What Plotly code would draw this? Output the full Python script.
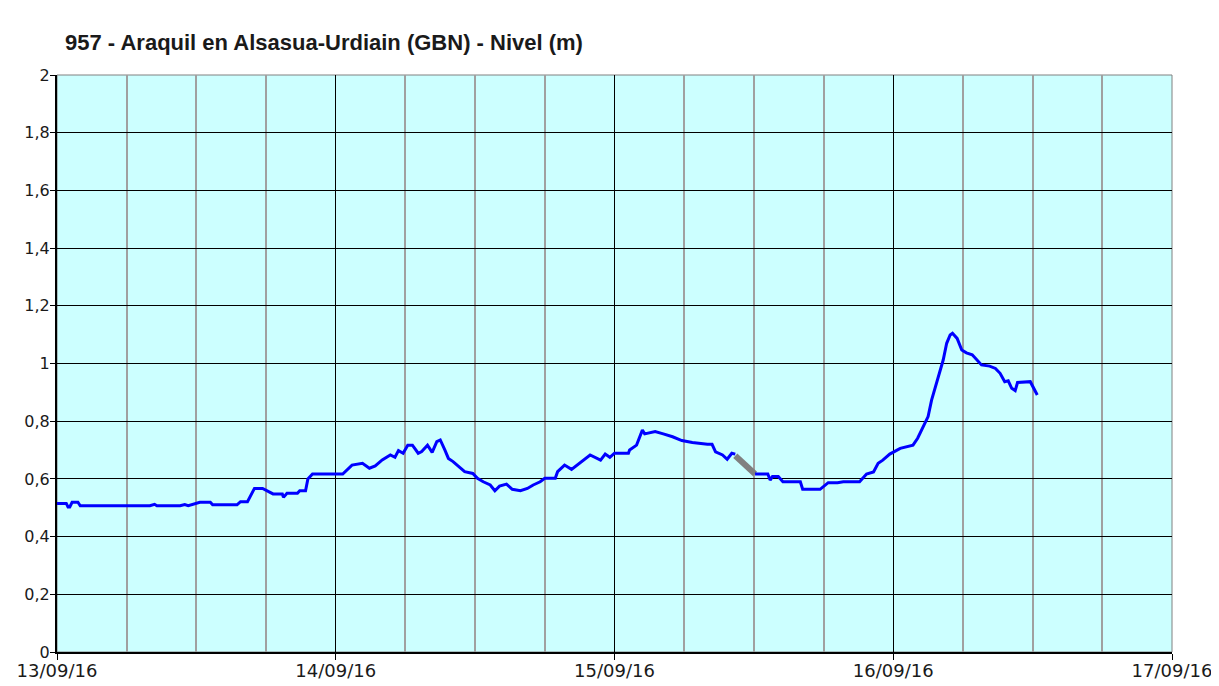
import pandas as pd
import plotly.graph_objects as go

# hours since 13/09/16 00:00 and river level (m)
hours = [0, 0.8, 0.95, 1.1, 1.3, 1.8, 2.0, 8.0, 8.4, 8.6, 10.6, 11.0, 11.3, 12.3, 13.2, 13.4,
         15.5, 15.8, 16.4, 16.8, 17.0, 17.7, 18.2, 18.6, 19.4, 19.5, 19.8, 20.7, 20.9, 21.4,
         21.6, 22.0, 24.6, 25.0, 25.4, 26.3, 26.9, 27.4, 28.0, 28.7, 29.1, 29.4, 29.8, 30.2,
         30.6, 31.1, 31.4, 31.9, 32.3, 32.7, 33.0, 33.4, 33.7, 34.1, 34.7, 35.1, 35.8, 36.2,
         36.7, 37.3, 37.7, 38.1, 38.7, 39.2, 39.9, 40.5, 41.0, 41.6, 42.0, 42.9, 43.1, 43.7,
         44.3, 45.0, 45.9, 46.8, 47.2, 47.6, 48.0, 49.2, 49.3, 49.9, 50.4, 50.6, 51.5, 52.2,
         53.0, 53.8, 54.7, 56.0, 56.4, 56.7, 57.3, 57.7, 58.1, 58.4]
levels = [0.515, 0.515, 0.503, 0.503, 0.519, 0.519, 0.507, 0.507, 0.512, 0.507, 0.507, 0.511, 0.507,
          0.519, 0.519, 0.510, 0.510, 0.521, 0.521, 0.550, 0.567, 0.567, 0.556, 0.548, 0.548,
          0.536, 0.550, 0.550, 0.559, 0.559, 0.600, 0.617, 0.617, 0.631, 0.648, 0.654, 0.637,
          0.645, 0.666, 0.683, 0.675, 0.698, 0.689, 0.717, 0.717, 0.689, 0.695, 0.717, 0.692,
          0.729, 0.735, 0.700, 0.671, 0.660, 0.637, 0.625, 0.619, 0.602, 0.590, 0.579, 0.559,
          0.575, 0.582, 0.564, 0.559, 0.567, 0.579, 0.590, 0.602, 0.602, 0.625, 0.648, 0.633,
          0.654, 0.683, 0.665, 0.686, 0.675, 0.689, 0.689, 0.700, 0.717, 0.769, 0.756, 0.764,
          0.756, 0.746, 0.733, 0.726, 0.720, 0.720, 0.694, 0.683, 0.668, 0.689, 0.686]

# gap filled (grey segment)
gap_hours = [58.4, 60.1]
gap_levels = [0.680, 0.617]

hours2 = [60.1, 61.2, 61.4, 61.6, 62.1, 62.5, 64.0, 64.2, 65.7, 66.4, 67.2, 67.7, 69.1, 69.7,
          70.3, 70.7, 71.1, 71.7, 72.6, 73.7, 74.1, 74.5, 75.0, 75.3, 75.6, 76.0, 76.3, 76.6,
          76.9, 77.1, 77.5, 77.9, 78.3, 78.8, 79.2, 79.6, 80.3, 80.8, 81.2, 81.6, 81.9, 82.2,
          82.5, 82.7, 83.8, 84.0, 84.4]
levels2 = [0.617, 0.617, 0.596, 0.608, 0.608, 0.590, 0.590, 0.564, 0.564, 0.587, 0.587, 0.590,
           0.590, 0.617, 0.624, 0.654, 0.665, 0.686, 0.706, 0.717, 0.741, 0.775, 0.816, 0.873,
           0.914, 0.966, 1.012, 1.070, 1.099, 1.105, 1.087, 1.047, 1.037, 1.030, 1.014, 0.995,
           0.991, 0.983, 0.966, 0.937, 0.940, 0.914, 0.906, 0.934, 0.937, 0.920, 0.891]

y_ticks = [0, 0.2, 0.4, 0.6, 0.8, 1, 1.2, 1.4, 1.6, 1.8, 2]
y_labels = ["0", "0,2", "0,4", "0,6", "0,8", "1", "1,2", "1,4", "1,6", "1,8", "2"]

start = pd.Timestamp("2016-09-13")


def to_time(h):
    return start + pd.to_timedelta(h, unit="h")


fig = go.Figure()

fig.add_trace(go.Scatter(x=to_time(hours), y=levels, mode="lines",
                         line=dict(color="#0000FF", width=3)))
fig.add_trace(go.Scatter(x=to_time(gap_hours), y=gap_levels, mode="lines",
                         line=dict(color="#808080", width=6)))
fig.add_trace(go.Scatter(x=to_time(hours2), y=levels2, mode="lines",
                         line=dict(color="#0000FF", width=3)))

# page body adds an 8px offset, margins compensate for it
fig.update_layout(
    width=1219,
    height=686,
    showlegend=False,
    paper_bgcolor="white",
    plot_bgcolor="#CCFFFF",
    margin=dict(l=49, r=55, t=67, b=42),
    title=dict(text="<b>957 - Araquil en Alsasua-Urdiain (GBN) - Nivel (m)</b>",
               x=57 / 1219, xanchor="left", y=1 - 34 / 686, yanchor="middle",
               font=dict(family="Liberation Sans", size=22, color="#1a1a1a")),
    xaxis=dict(
        type="date",
        range=[start, start + pd.Timedelta(days=4)],
        dtick=86400000,
        tick0=start,
        tickformat="%d/%m/%y",
        showgrid=True, gridcolor="black", gridwidth=1,
        minor=dict(dtick=6 * 3600000, showgrid=True, gridcolor="#A0A0A0", gridwidth=2),
        ticks="outside", ticklen=6, tickcolor="black",
        ticklabelstandoff=-5,
        showline=True, linecolor="black", linewidth=2, mirror=False,
        tickfont=dict(family="DejaVu Sans", size=18, color="#1a1a1a"),
        automargin=False,
        zeroline=False,
    ),
    yaxis=dict(
        range=[0, 2],
        tickvals=y_ticks,
        ticktext=y_labels,
        showgrid=True, gridcolor="black", gridwidth=1,
        ticks="outside", ticklen=5, tickcolor="black",
        ticklabelstandoff=-3,
        showline=True, linecolor="black", linewidth=2,
        tickfont=dict(family="DejaVu Sans", size=16, color="#1a1a1a"),
        automargin=False,
        zeroline=False,
    ),
    shapes=[dict(type="rect", xref="paper", yref="paper", x0=0, x1=1, y0=0, y1=1,
                 line=dict(color="#808080", width=1), layer="below")],
)

fig.write_html("out.html")
